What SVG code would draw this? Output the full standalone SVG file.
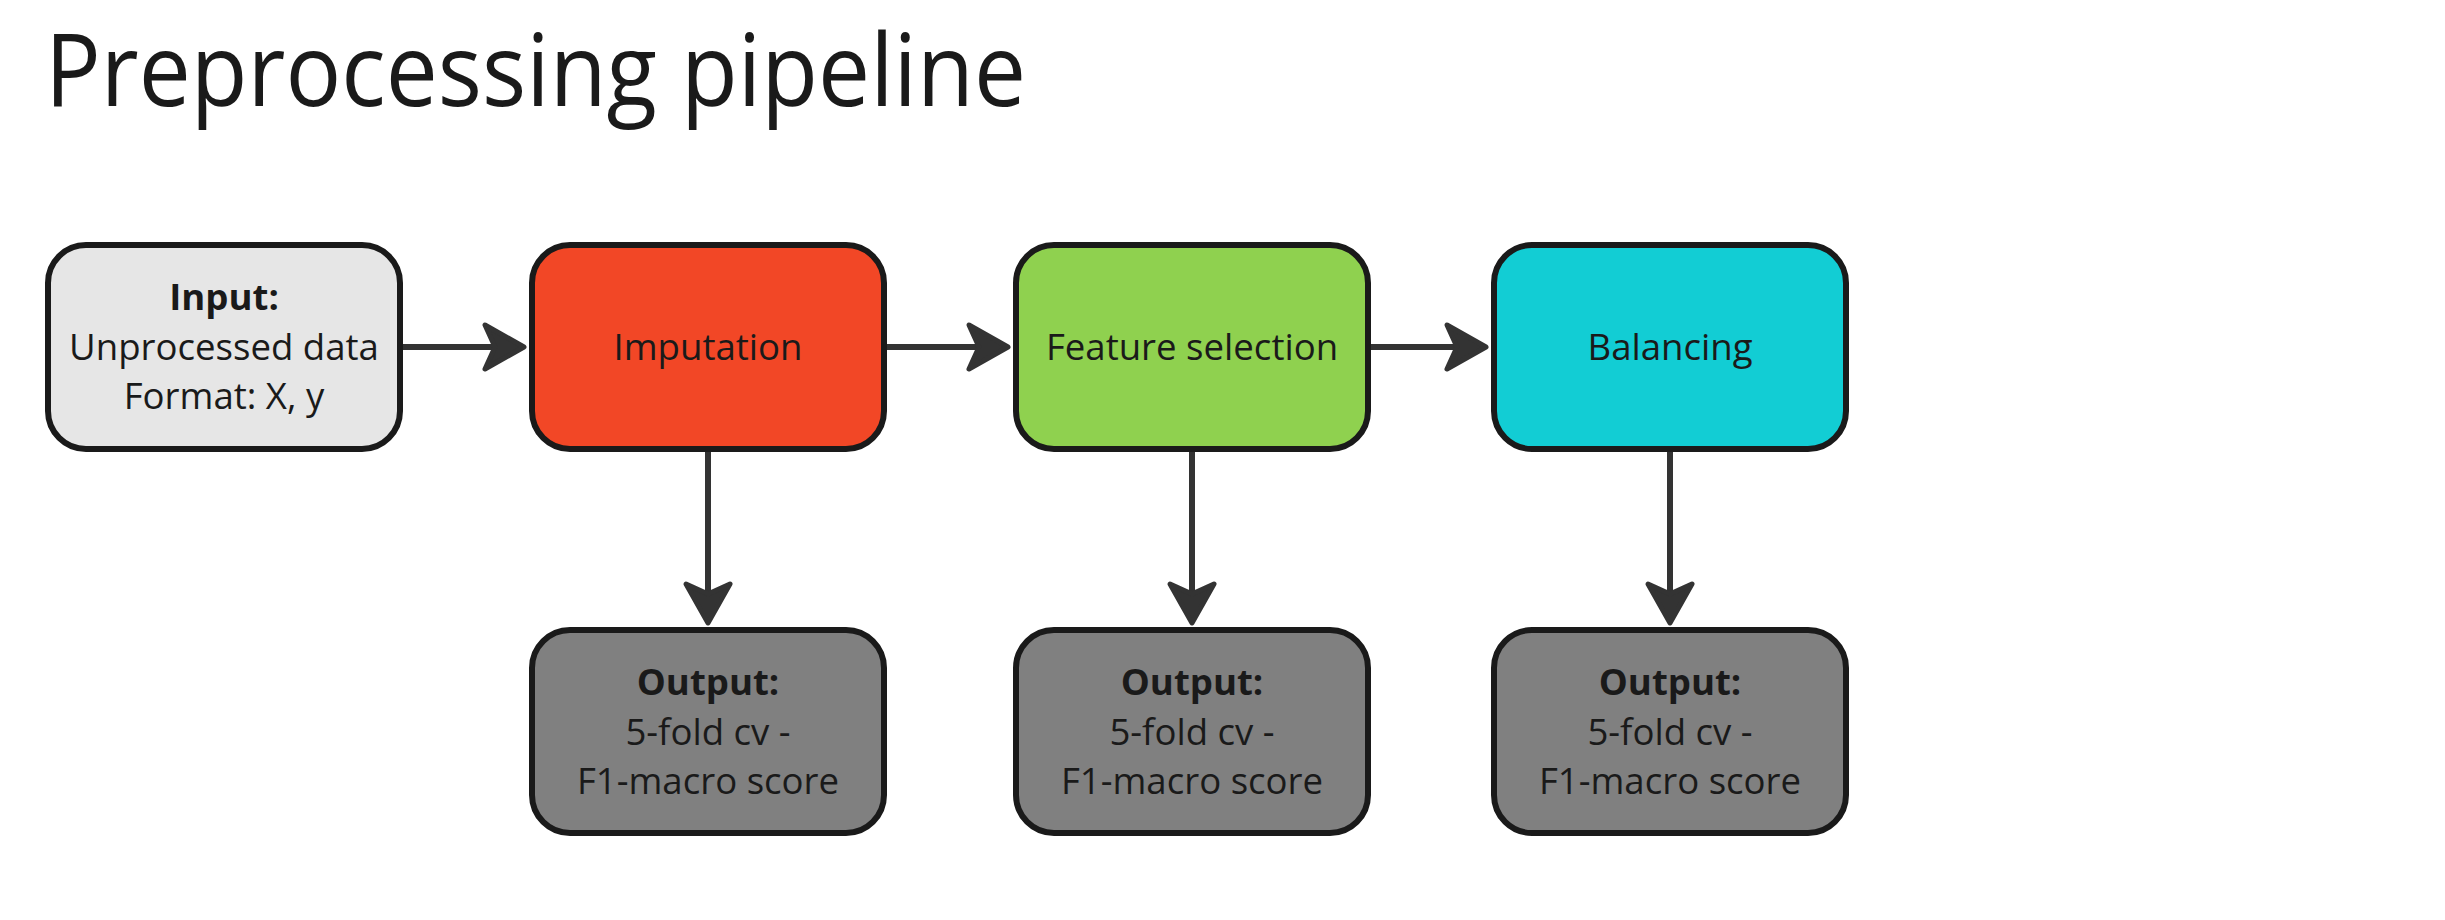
<svg xmlns="http://www.w3.org/2000/svg" width="2445" height="920" viewBox="0 0 2445 920">
<style>
.box{stroke:#1a1a1a;stroke-width:6}
.t{font-family:"Open Sans","Noto Sans",sans-serif;font-size:36.6px;fill:#1a1a1a;text-anchor:middle}
.b{font-weight:bold}
.title{font-family:"Open Sans","Noto Sans",sans-serif;font-size:100px;fill:#1a1a1a}
.conn{stroke:#333333;stroke-width:6;fill:none}
</style>
<defs>
<marker id="ah" markerUnits="userSpaceOnUse" viewBox="-48 -30 54 60" markerWidth="54" markerHeight="60" refX="0" refY="0" orient="auto">
<path d="M0,0 L-39,-22 L-29,0 L-39,22 Z" fill="#333333" stroke="#333333" stroke-width="5" stroke-linejoin="round"/>
</marker>
</defs>
<rect width="2445" height="920" fill="#ffffff"/>
<text class="title" x="45" y="106" textLength="981" lengthAdjust="spacingAndGlyphs">Preprocessing pipeline</text>
<g id="connectors">
<path class="conn" d="M402,347 L524,347" marker-end="url(#ah)"/>
<path class="conn" d="M887,347 L1008,347" marker-end="url(#ah)"/>
<path class="conn" d="M1371,347 L1486,347" marker-end="url(#ah)"/>
<path class="conn" d="M708,452 L708,623" marker-end="url(#ah)"/>
<path class="conn" d="M1192,452 L1192,623" marker-end="url(#ah)"/>
<path class="conn" d="M1670,452 L1670,623" marker-end="url(#ah)"/>
</g>
<g id="input">
<rect class="box" x="48" y="245" width="352" height="204" rx="38" fill="#e6e6e6"/>
<text class="t b" x="224" y="310">Input:</text>
<text class="t" x="224" y="360">Unprocessed data</text>
<text class="t" x="224" y="409">Format: X, y</text>
</g>
<g id="imputation">
<rect class="box" x="532" y="245" width="352" height="204" rx="38" fill="#f24726"/>
<text class="t" x="708" y="360">Imputation</text>
</g>
<g id="feature-selection">
<rect class="box" x="1016" y="245" width="352" height="204" rx="38" fill="#8fd14f"/>
<text class="t" x="1192" y="360">Feature selection</text>
</g>
<g id="balancing">
<rect class="box" x="1494" y="245" width="352" height="204" rx="38" fill="#12cdd4"/>
<text class="t" x="1670" y="360">Balancing</text>
</g>
<g id="output-imputation">
<rect class="box" x="532" y="630" width="352" height="203" rx="38" fill="#808080"/>
<text class="t b" x="708" y="695">Output:</text>
<text class="t" x="708" y="745">5-fold cv -</text>
<text class="t" x="708" y="794">F1-macro score</text>
</g>
<g id="output-feature-selection">
<rect class="box" x="1016" y="630" width="352" height="203" rx="38" fill="#808080"/>
<text class="t b" x="1192" y="695">Output:</text>
<text class="t" x="1192" y="745">5-fold cv -</text>
<text class="t" x="1192" y="794">F1-macro score</text>
</g>
<g id="output-balancing">
<rect class="box" x="1494" y="630" width="352" height="203" rx="38" fill="#808080"/>
<text class="t b" x="1670" y="695">Output:</text>
<text class="t" x="1670" y="745">5-fold cv -</text>
<text class="t" x="1670" y="794">F1-macro score</text>
</g>
</svg>
